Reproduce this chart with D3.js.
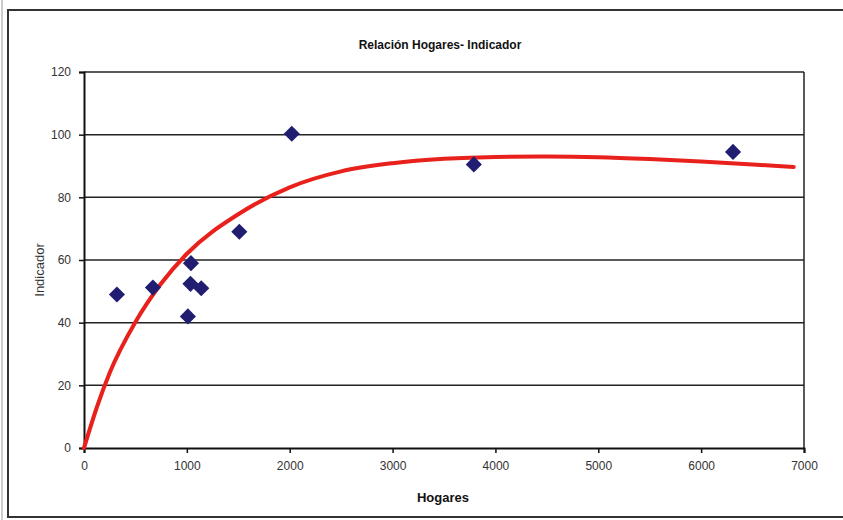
<!DOCTYPE html>
<meta charset="utf-8">
<title>Relación Hogares- Indicador</title>
<style>
body { margin: 0; background: #fff; }
text { font-family: "Liberation Sans", Arial, sans-serif; }
.tick text { font-size: 12px; fill: #333; }
</style>
<body>
<script src="https://d3js.org/d3.v7.min.js"></script>
<script>

// observed points (Hogares, Indicador)
var hogares   = [320, 670, 1010, 1040, 1035, 1140, 1510, 2020, 3790, 6310];
var indicador = [49, 51.2, 42, 59, 52.4, 51, 69, 100.3, 90.5, 94.5];

// trend line
var trendX = [0, 125, 250, 500, 750, 1000, 1500, 2000, 2500, 3000, 3500, 4000, 4500, 5000, 5500, 6000, 6500, 6900];
var trendY = [0, 13, 24, 40.2, 52.5, 62, 74.6, 83.2, 88.3, 90.9, 92.3, 92.9, 93.0, 92.8, 92.2, 91.4, 90.5, 89.7];

var xTicks = [0, 1000, 2000, 3000, 4000, 5000, 6000, 7000];
var yTicks = [0, 20, 40, 60, 80, 100, 120];

var W = 843, H = 520;
var margin = {top: 72, right: 39, bottom: 72, left: 84};
var width = W - margin.left - margin.right,
    height = H - margin.top - margin.bottom;

var svg = d3.select("body").append("svg")
    .attr("width", W)
    .attr("height", H);

// outer frame
svg.append("line").attr("x1", 2).attr("x2", 2).attr("y1", 0).attr("y2", H)
    .attr("stroke", "#999").attr("stroke-width", 1);
svg.append("path")
    .attr("d", "M" + W + ",10H8V517H" + W)
    .attr("fill", "none").attr("stroke", "#333").attr("stroke-width", 2);

var x = d3.scaleLinear().domain([0, 7000]).range([0, width]);
var y = d3.scaleLinear().domain([0, 120]).range([height, 0]);

var g = svg.append("g")
    .attr("transform", "translate(" + margin.left + "," + margin.top + ")");

// gridlines
g.append("g").selectAll("line")
    .data(yTicks.filter(function(d) { return d > 0; }))
    .enter().append("line")
    .attr("x1", 0).attr("x2", width)
    .attr("y1", function(d) { return y(d); })
    .attr("y2", function(d) { return y(d); })
    .attr("stroke", "#222").attr("stroke-width", 1.5);

// right border of the plot area
g.append("line")
    .attr("x1", width).attr("x2", width).attr("y1", 0).attr("y2", height)
    .attr("stroke", "#222").attr("stroke-width", 1.5);

var xAxis = g.append("g")
    .attr("transform", "translate(0," + height + ")")
    .call(d3.axisBottom(x).tickValues(xTicks).tickSize(5).tickPadding(8).tickFormat(d3.format("d")));
var yAxis = g.append("g")
    .call(d3.axisLeft(y).tickValues(yTicks).tickSize(5).tickPadding(8));

[xAxis, yAxis].forEach(function(a) {
  a.select(".domain").attr("stroke", "#111").attr("stroke-width", 2);
  a.selectAll(".tick line").attr("stroke", "#111").attr("stroke-width", 1.5);
  a.selectAll(".tick text").style("font-size", "12px").attr("fill", "#333");
});

// trend line
var line = d3.line()
    .x(function(d, i) { return x(trendX[i]); })
    .y(function(d, i) { return y(trendY[i]); })
    .curve(d3.curveMonotoneX);

g.append("path")
    .datum(trendX)
    .attr("d", line)
    .attr("fill", "none")
    .attr("stroke", "#e8211c")
    .attr("stroke-width", 4)
    .attr("stroke-linecap", "round");

// diamonds
var sym = d3.symbol().type(d3.symbolSquare).size(130);
g.append("g").selectAll("path")
    .data(hogares)
    .enter().append("path")
    .attr("d", sym)
    .attr("transform", function(d, i) {
      return "translate(" + x(d) + "," + y(indicador[i]) + ") rotate(45)";
    })
    .attr("fill", "#211d70");

// titles
svg.append("text")
    .attr("x", 440).attr("y", 49)
    .attr("text-anchor", "middle")
    .style("font-size", "12px").style("font-weight", "bold")
    .attr("fill", "#111")
    .text("Relación Hogares- Indicador");

svg.append("text")
    .attr("x", 443).attr("y", 502)
    .attr("text-anchor", "middle")
    .style("font-size", "13px").style("font-weight", "bold")
    .attr("fill", "#111")
    .text("Hogares");

svg.append("text")
    .attr("transform", "translate(44," + (margin.top + height / 2 + 10) + ") rotate(-90)")
    .attr("text-anchor", "middle")
    .style("font-size", "13px")
    .attr("fill", "#333")
    .text("Indicador");

</script>
</body>
